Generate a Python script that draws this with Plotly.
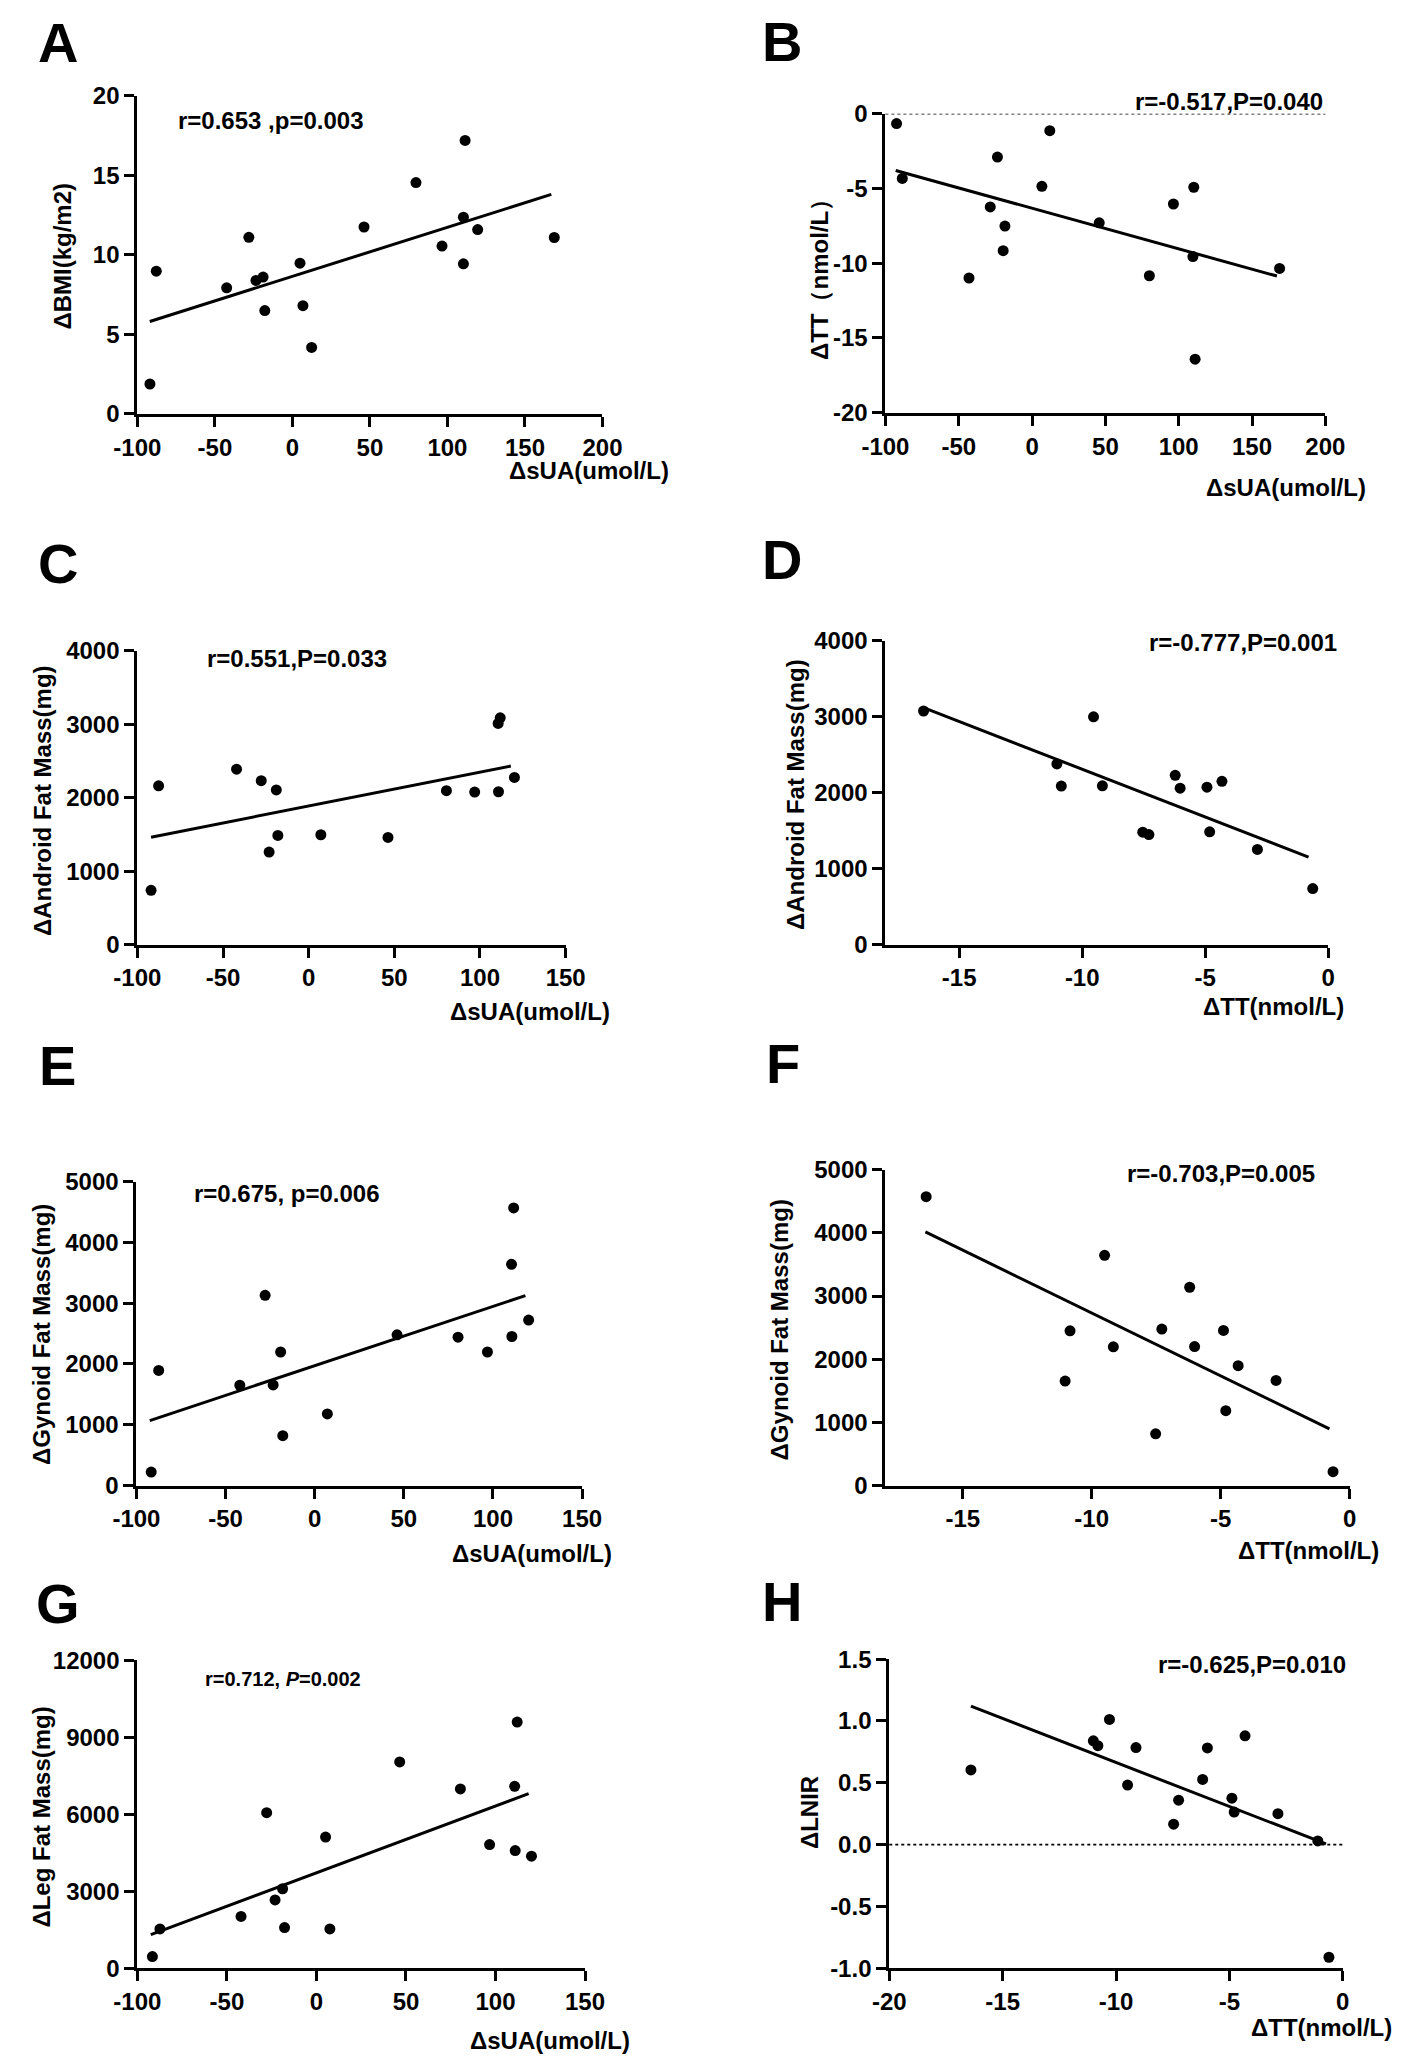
import plotly.graph_objects as go

W, H = 1418, 2066

# ---- data ----
a_x = [-91.9, -87.8, -42.4, -28.1, -23.5, -18.9, -17.8, 4.9, 6.8, 12.4, 46.2, 79.7, 96.5, 110.3, 111.4, 110.3, 119.5, 168.9]
a_y = [1.87, 8.97, 7.92, 11.1, 8.39, 8.6, 6.49, 9.47, 6.8, 4.17, 11.75, 14.55, 10.55, 12.37, 17.2, 9.43, 11.59, 11.09]
a_fit_x = [-92, 167]
a_fit_y = [5.8, 13.8]

b_x = [-92.4, -88.5, -43, -28.5, -23.6, -18.5, -19.7, 6.7, 12.1, 45.8, 80, 96.4, 110.3, 109.7, 111.2, 168.8]
b_y = [-0.66, -4.33, -10.99, -6.24, -2.9, -7.52, -9.16, -4.86, -1.14, -7.3, -10.84, -6.04, -4.92, -9.56, -16.42, -10.35]
b_fit_x = [-93, 167]
b_fit_y = [-3.8, -10.86]

c_x = [-92, -87.6, -42.1, -27.7, -23.1, -18.9, -18, 7.1, 46.3, 80.4, 96.9, 110.6, 111.8, 110.8, 120.1]
c_y = [740, 2160, 2387, 2231, 1259, 2104, 1486, 1495, 1458, 2094, 2075, 3009, 3085, 2080, 2274]
c_fit_x = [-92, 118]
c_fit_y = [1462, 2429]

d_x = [-16.45, -11.03, -10.85, -9.54, -9.18, -7.54, -7.29, -6.22, -6.02, -4.93, -4.32, -4.82, -2.88, -0.63]
d_y = [3075, 2378, 2087, 2998, 2091, 1481, 1449, 2228, 2059, 2073, 2150, 1485, 1253, 738]
d_fit_x = [-16.4, -0.8]
d_fit_y = [3112, 1153]

e_x = [-91.7, -87.5, -42, -27.8, -23.3, -19.1, -17.9, 7.1, 46.2, 80.4, 96.9, 110.4, 111.6, 110.6, 120]
e_y = [222, 1893, 1649, 3129, 1654, 2196, 819, 1177, 2478, 2440, 2196, 3639, 4566, 2451, 2722]
e_fit_x = [-92.5, 118.2]
e_fit_y = [1068, 3124]

f_x = [-16.42, -11.03, -10.84, -9.5, -9.16, -7.52, -7.28, -6.2, -6.01, -4.89, -4.8, -4.32, -2.85, -0.64]
f_y = [4572, 1653, 2450, 3644, 2195, 819, 2477, 3139, 2200, 2456, 1184, 1898, 1663, 219]
f_fit_x = [-16.45, -0.78]
f_fit_y = [4015, 897]

g_x = [-91.6, -87.4, -42.1, -27.8, -23.1, -18.9, -17.8, 5.1, 7.5, 46.5, 80.4, 96.7, 110.7, 112.1, 111, 120.1]
g_y = [449, 1527, 2015, 6058, 2657, 3093, 1579, 5108, 1527, 8034, 6982, 4813, 7084, 9587, 4582, 4363]
g_fit_x = [-92.5, 118.5]
g_fit_y = [1309, 6802]

h_x = [-16.4, -11, -10.8, -10.29, -9.49, -9.12, -7.46, -7.24, -6.18, -5.97, -4.89, -4.79, -4.31, -2.86, -1.1, -0.61]
h_y = [0.604, 0.84, 0.80, 1.013, 0.481, 0.785, 0.165, 0.359, 0.527, 0.782, 0.375, 0.263, 0.880, 0.25, 0.029, -0.912]
h_fit_x = [-16.4, -0.74]
h_fit_y = [1.12, 0.005]

sua_ticks = [-100, -50, 0, 50, 100, 150]
sua_ticks_wide = [-100, -50, 0, 50, 100, 150, 200]
tt_ticks = [-15, -10, -5, 0]
tt_ticks_wide = [-20, -15, -10, -5, 0]
lnir_ticks = [-1.0, -0.5, 0.0, 0.5, 1.0, 1.5]
lnir_labels = ["-1.0", "-0.5", "0.0", "0.5", "1.0", "1.5"]

# ---- layout per panel (pixels in the 1418x2066 page) ----
panels = [
    dict(key="A", x=a_x, y=a_y, fx=a_fit_x, fy=a_fit_y, xr=[-100, 200], yr=[0, 20],
         xt=sua_ticks_wide, yt=[0, 5, 10, 15, 20], box=(117, 597, 83, 405),
         letter=(12, 29), ytitle="ΔBMI(kg/m2)", ytitle_pos=(40, 245),
         xtitle="ΔsUA(umol/L)", xtitle_pos=(668, 463),
         stat="r=0.653 ,p=0.003", stat_pos=(157, 108, "left"), zero=False),
    dict(key="B", x=b_x, y=b_y, fx=b_fit_x, fy=b_fit_y, xr=[-100, 200], yr=[-20, 0],
         xt=sua_ticks_wide, yt=[-20, -15, -10, -5, 0], box=(889, 1343, 101, 404),
         letter=(760, 28), ytitle="ΔTT（nmol/L）", ytitle_pos=(821, 263),
         xtitle="ΔsUA(umol/L)", xtitle_pos=(1387, 480),
         stat="r=-0.517,P=0.040", stat_pos=(1343, 89, "right"), zero=True),
    dict(key="C", x=c_x, y=c_y, fx=c_fit_x, fy=c_fit_y, xr=[-100, 150], yr=[0, 4000],
         xt=sua_ticks, yt=[0, 1000, 2000, 3000, 4000], box=(117, 559, 645, 943),
         letter=(12, 557), ytitle="ΔAndroid Fat Mass(mg)", ytitle_pos=(19, 797),
         xtitle="ΔsUA(umol/L)", xtitle_pos=(607, 1011),
         stat="r=0.551,P=0.033", stat_pos=(187, 653, "left"), zero=False),
    dict(key="D", x=d_x, y=d_y, fx=d_fit_x, fy=d_fit_y, xr=[-18, 0], yr=[0, 4000],
         xt=tt_ticks, yt=[0, 1000, 2000, 3000, 4000], box=(889, 1346, 635, 943),
         letter=(760, 553), ytitle="ΔAndroid Fat Mass(mg)", ytitle_pos=(796, 791),
         xtitle="ΔTT(nmol/L)", xtitle_pos=(1364, 1006),
         stat="r=-0.777,P=0.001", stat_pos=(1357, 637, "right"), zero=False),
    dict(key="E", x=e_x, y=e_y, fx=e_fit_x, fy=e_fit_y, xr=[-100, 150], yr=[0, 5000],
         xt=sua_ticks, yt=[0, 1000, 2000, 3000, 4000, 5000], box=(116, 576, 1183, 1491),
         letter=(13, 1065), ytitle="ΔGynoid Fat Mass(mg)", ytitle_pos=(18, 1338),
         xtitle="ΔsUA(umol/L)", xtitle_pos=(609, 1560),
         stat="r=0.675, p=0.006", stat_pos=(173, 1195, "left"), zero=False),
    dict(key="F", x=f_x, y=f_y, fx=f_fit_x, fy=f_fit_y, xr=[-18, 0], yr=[0, 5000],
         xt=tt_ticks, yt=[0, 1000, 2000, 3000, 4000, 5000], box=(889, 1368, 1171, 1491),
         letter=(764, 1063), ytitle="ΔGynoid Fat Mass(mg)", ytitle_pos=(780, 1333),
         xtitle="ΔTT(nmol/L)", xtitle_pos=(1400, 1557),
         stat="r=-0.703,P=0.005", stat_pos=(1334, 1175, "right"), zero=False),
    dict(key="G", x=g_x, y=g_y, fx=g_fit_x, fy=g_fit_y, xr=[-100, 150], yr=[0, 12000],
         xt=sua_ticks, yt=[0, 3000, 6000, 9000, 12000], box=(117, 579, 1668, 1980),
         letter=(10, 1611), ytitle="ΔLeg Fat Mass(mg)", ytitle_pos=(18, 1827),
         xtitle="ΔsUA(umol/L)", xtitle_pos=(627, 2053),
         stat="r=0.712, <i>P</i>=0.002", stat_pos=(185, 1687, "left"), zero=False),
    dict(key="H", x=h_x, y=h_y, fx=h_fit_x, fy=h_fit_y, xr=[-20, 0], yr=[-1, 1.5],
         xt=tt_ticks_wide, yt=lnir_ticks, ylab=lnir_labels, box=(893, 1361, 1667, 1980),
         letter=(760, 1609), ytitle="ΔLNIR", ytitle_pos=(810, 1822),
         xtitle="ΔTT(nmol/L)", xtitle_pos=(1414, 2040),
         stat="r=-0.625,P=0.010", stat_pos=(1366, 1672, "right"), zero=True),
]

FONT = "Liberation Sans, Arial, sans-serif"

fig = go.Figure()
annotations = []
shapes = []


def note(text, x, y, xanchor, size, angle=0):
    annotations.append(dict(
        text=f"<b>{text}</b>", x=x / W, y=1 - y / H, xref="paper", yref="paper",
        xanchor=xanchor, yanchor="middle", textangle=angle, showarrow=False,
        font=dict(family=FONT, size=size, color="black")))


for i, p in enumerate(panels, start=1):
    xa = "x" if i == 1 else f"x{i}"
    ya = "y" if i == 1 else f"y{i}"

    # points
    fig.add_trace(go.Scatter(
        x=p["x"], y=p["y"], mode="markers", xaxis=xa, yaxis=ya,
        marker=dict(color="black", size=11), cliponaxis=False, showlegend=False
    ))
    # regression line
    fig.add_trace(go.Scatter(
        x=p["fx"], y=p["fy"], mode="lines", xaxis=xa, yaxis=ya,
        line=dict(color="black", width=3), cliponaxis=False, showlegend=False
    ))

    x0, x1, y0, y1 = p["box"]
    common = dict(
        showline=True, linecolor="black", linewidth=3,
        ticks="outside", ticklen=10, tickwidth=3, tickcolor="black",
        showgrid=False, zeroline=False,
        tickfont=dict(family=FONT, size=24, color="black", weight="bold"),
    )
    # plain hyphen minus signs, as in the original
    xlab = [str(v) for v in p["xt"]]
    ylab = p.get("ylab", [str(v) for v in p["yt"]])
    fig.update_layout({
        ("xaxis" if i == 1 else f"xaxis{i}"): dict(
            domain=[x0 / W, x1 / W], anchor=ya, range=p["xr"],
            tickvals=p["xt"], ticktext=xlab, **common),
        ("yaxis" if i == 1 else f"yaxis{i}"): dict(
            domain=[1 - y1 / H, 1 - y0 / H], anchor=xa, range=p["yr"],
            tickvals=p["yt"], ticktext=ylab, **common),
    })

    if p["zero"]:
        shapes.append(dict(type="line", xref=f"{xa} domain", yref=ya, x0=0, x1=1, y0=0, y1=0,
                           line=dict(color="black", width=1.8, dash="dot")))

    lx, ly = p["letter"]
    note(p["key"], lx, ly, "left", 56)
    tx, ty = p["ytitle_pos"]
    note(p["ytitle"], tx, ty, "center", 24, angle=-90)
    tx, ty = p["xtitle_pos"]
    note(p["xtitle"], tx, ty, "right", 24)
    sx, sy, anc = p["stat_pos"]
    note(p["stat"], sx, sy, anc, 24 if p["key"] != "G" else 20)

fig.update_layout(
    width=W, height=H,
    margin=dict(l=0, r=0, t=0, b=0),
    paper_bgcolor="white", plot_bgcolor="white",
    annotations=annotations, shapes=shapes,
    showlegend=False,
)

fig.write_html("out.html", config={"displayModeBar": False},
               post_script="document.body.style.margin='0';")
